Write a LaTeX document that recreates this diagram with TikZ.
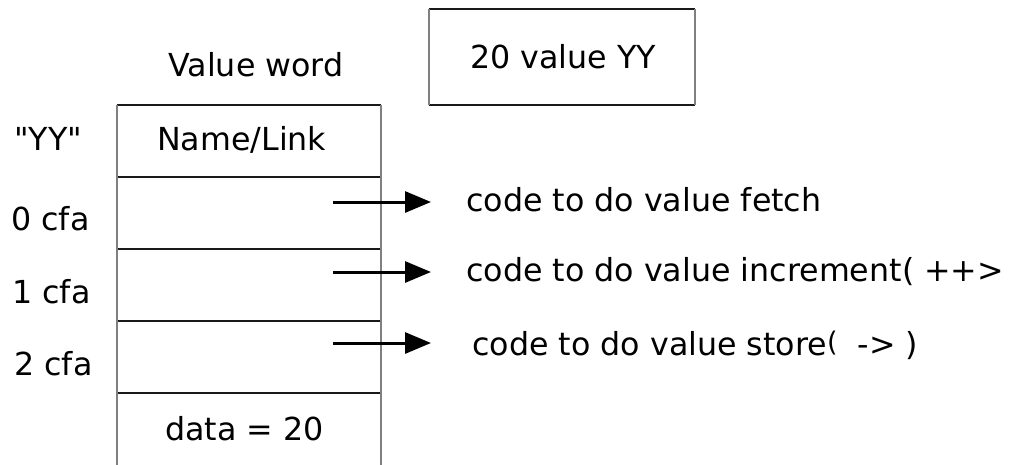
\documentclass[tikz,border=0pt]{standalone}
\usepackage{fontspec}
\setmainfont{DejaVu Sans}
\newfontfamily\straightfont{DejaVu Sans}
\usetikzlibrary{arrows.meta}
\tikzset{
  lbl/.style={anchor=base west,inner sep=0pt,font=\fontsize{31.7}{36}\selectfont},
  hline/.style={color=black!90,line width=1.5pt},
  vline/.style={color=black!50,line width=2pt},
  ptr/.style={line width=3pt,-{Triangle[length=26pt,width=21pt]}}
}
\begin{document}
\begin{tikzpicture}[x=1pt,y=-1pt]
\useasboundingbox (0,0) rectangle (1009,464);
% the value word
\foreach \y in {105,177,249,321,393} \draw[hline] (117,\y) -- (381,\y);
\draw[vline] (117,105) -- (117,470);
\draw[vline] (381,105) -- (381,470);
% the source line
\draw[hline] (429,9) -- (695,9);
\draw[hline] (429,105) -- (695,105);
\draw[vline] (429,9) -- (429,105);
\draw[vline] (695,9) -- (695,105);
\node[lbl] (src) at (470,68) {20 value YY};
\node[lbl,anchor=base] (title) at (256,76) {Value word};
\node[lbl] (name) at (157,150) {Name/Link};
\node[lbl] (data) at (165,440) {data = 20};
\node[lbl] (nm) at (14,150) {\straightfont "YY"};
\node[lbl] (cfa0) at (11,230) {0 cfa};
\node[lbl] (cfa1) at (12,303) {1 cfa};
\node[lbl] (cfa2) at (14,375) {2 cfa};
\node[lbl] (fetch) at (466,211) {code to do value fetch};
\node[lbl] (incr) at (466,281) {code to do value increment( ++>};
\node[lbl] (store) at (472,355) {code to do value store\raisebox{4pt}{\fontsize{27}{30}\selectfont(}\ \ -> )};
% pointers out of the cfa cells
\coordinate (p0) at (333,202); \coordinate (q0) at (431,202);
\coordinate (p1) at (333,272); \coordinate (q1) at (431,272);
\coordinate (p2) at (333,343); \coordinate (q2) at (431,343);
\draw[ptr] (p0) -- (q0);
\draw[ptr] (p1) -- (q1);
\draw[ptr] (p2) -- (q2);
\end{tikzpicture}
\end{document}
